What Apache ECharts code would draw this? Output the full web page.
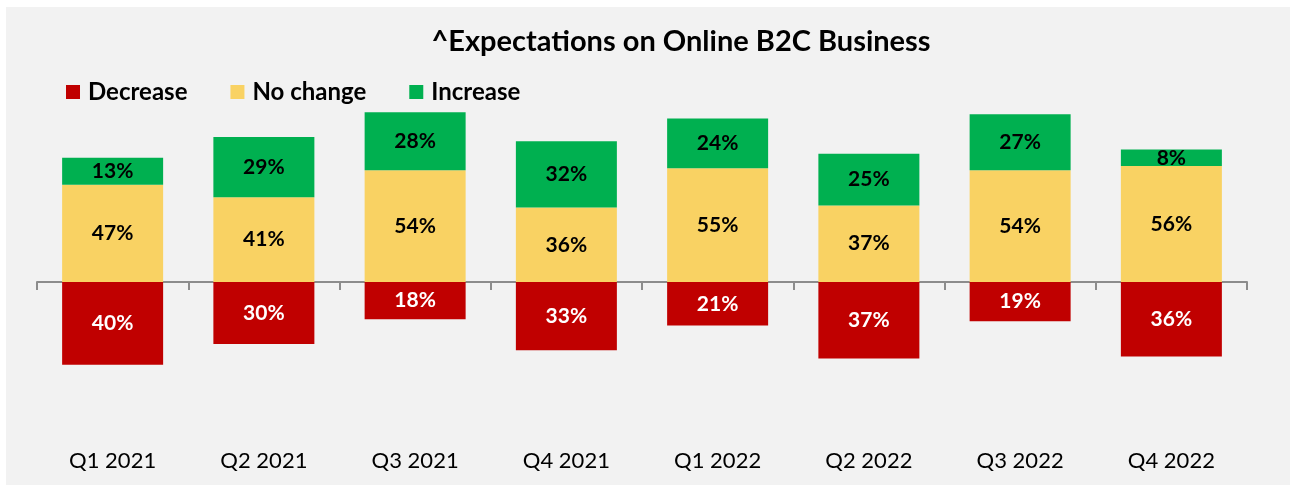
<!DOCTYPE html>
<html>
<head>
<meta charset="utf-8">
<script src="https://cdn.jsdelivr.net/npm/echarts@6/dist/echarts.min.js"></script>
<style>
  html, body { margin: 0; padding: 0; background: #fff; }
  #b2cChart { width: 1290px; height: 486px; }
</style>
</head>
<body>
<div id="b2cChart"></div>
<script>
// 季度
const quarters = ["Q1 2021", "Q2 2021", "Q3 2021", "Q4 2021", "Q1 2022", "Q2 2022", "Q3 2022", "Q4 2022"];
// 各项占比（%）
const decreaseData = [40, 30, 18, 33, 21, 37, 19, 36];
const noChangeData = [47, 41, 54, 36, 55, 37, 54, 56];
const increaseData = [13, 29, 28, 32, 24, 25, 27, 8];

const fontName = "Lato";

let chart = echarts.init(document.getElementById("b2cChart"));

function barLabel(color) {
  return {
    show: true,
    position: "inside",
    color: color,
    fontFamily: fontName,
    fontWeight: "bold",
    fontSize: 21,
    formatter: (p) => Math.abs(p.value) + "%",
  };
}

let option = {
  backgroundColor: "#fff",
  animation: false,
  graphic: [
    {
      type: "rect",
      z: -10,
      silent: true,
      shape: { x: 6, y: 7, width: 1284, height: 478 },
      style: { fill: "#f2f2f2" },
    },
  ],
  title: {
    text: "^Expectations on Online B2C Business",
    left: 676,
    top: 22,
    textAlign: "center",
    textStyle: {
      fontFamily: fontName,
      fontWeight: "bold",
      fontSize: 29,
      color: "#000",
    },
  },
  legend: {
    left: 66,
    top: 80,
    padding: 0,
    itemWidth: 14,
    itemHeight: 14,
    itemGap: 43,
    icon: "rect",
    textStyle: {
      fontFamily: fontName,
      fontWeight: "bold",
      fontSize: 24,
      color: "#000",
      padding: [0, 0, 0, 3],
    },
    data: ["Decrease", "No change", "Increase"],
  },
  grid: {
    left: 37,
    right: 43,
    top: 75,
    bottom: 38.4,
    containLabel: false,
  },
  xAxis: [
    {
      type: "category",
      data: quarters,
      axisLine: {
        onZero: true,
        lineStyle: { color: "#8c8c8c", width: 2 },
      },
      axisTick: {
        show: true,
        length: 8,
        lineStyle: { color: "#8c8c8c", width: 2 },
      },
      axisLabel: { show: false },
    },
    {
      // 底部季度标签
      type: "category",
      data: quarters,
      position: "bottom",
      axisLine: { show: false, onZero: false },
      axisTick: { show: false },
      axisLabel: {
        margin: 2,
        color: "#000",
        fontFamily: fontName,
        fontSize: 22,
      },
    },
  ],
  yAxis: {
    type: "value",
    min: -80,
    max: 100,
    show: false,
    splitLine: { show: false },
  },
  series: [
    {
      name: "Decrease",
      type: "bar",
      stack: "total",
      barWidth: 101,
      color: "#c00000",
      data: decreaseData.map((v) => -v),
      label: barLabel("#fff"),
    },
    {
      name: "No change",
      type: "bar",
      stack: "total",
      barWidth: 101,
      color: "#f9d263",
      data: noChangeData,
      label: barLabel("#000"),
    },
    {
      name: "Increase",
      type: "bar",
      stack: "total",
      barWidth: 101,
      color: "#00b050",
      data: increaseData,
      label: barLabel("#000"),
    },
  ],
};

chart.setOption(option);
window.addEventListener("resize", () => chart.resize(), true);
</script>
</body>
</html>
